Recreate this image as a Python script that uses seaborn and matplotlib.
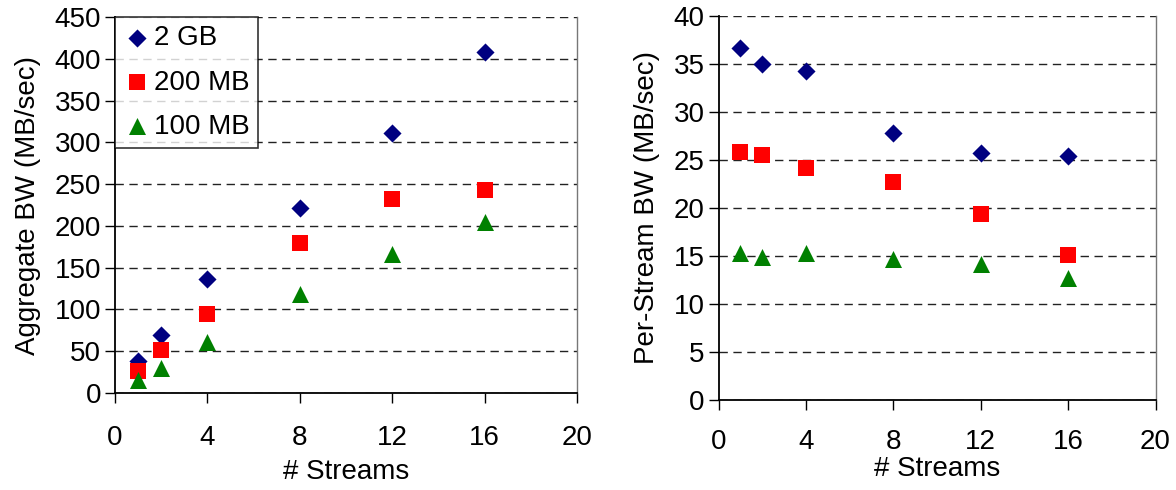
import matplotlib
matplotlib.use("Agg")
import matplotlib.pyplot as plt
import seaborn as sns
import pandas as pd

streams = [1, 2, 4, 8, 12, 16]
series = ["2 GB", "200 MB", "100 MB"]
agg_2gb = [38, 70, 136, 221, 311, 408]
agg_200mb = [26, 52, 95, 180, 232, 243]
agg_100mb = [16, 30, 61, 119, 167, 205]
per_2gb = [36.6, 35.0, 34.2, 27.8, 25.7, 25.4]
per_200mb = [25.8, 25.5, 24.1, 22.7, 19.3, 15.1]
per_100mb = [15.3, 14.9, 15.3, 14.7, 14.1, 12.7]
x_ticks = [0, 4, 8, 12, 16, 20]

colors = {"2 GB": "#000080", "200 MB": "#ff0000", "100 MB": "#008000"}
markers = {"2 GB": "D", "200 MB": "s", "100 MB": "^"}
sizes = {"2 GB": 85, "200 MB": 120, "100 MB": 150}

rows = []
for name, a, p in zip(series, [agg_2gb, agg_200mb, agg_100mb], [per_2gb, per_200mb, per_100mb]):
    for s, av, pv in zip(streams, a, p):
        rows.append({"series": name, "streams": s, "agg": av, "per": pv})
df = pd.DataFrame(rows)

sns.set_theme(style="white")
plt.rcParams["font.family"] = ["Liberation Sans", "DejaVu Sans"]
plt.rcParams["text.color"] = "black"
plt.rcParams["axes.labelcolor"] = "black"
plt.rcParams["xtick.color"] = "black"
plt.rcParams["ytick.color"] = "black"

FS = 20

fig = plt.figure(figsize=(11.76, 4.9), dpi=100)
ax1 = fig.add_axes([0.0978, 0.198, 0.393, 0.767])
ax2 = fig.add_axes([0.611, 0.184, 0.3716, 0.784])

for ax, col, ymax, ystep, ylabel, xpad, xlpad in [
    (ax1, "agg", 450, 50, "Aggregate BW (MB/sec)", 16, 6),
    (ax2, "per", 40, 5, "Per-Stream BW (MB/sec)", 14, 1),
]:
    for name in series:
        sub = df[df["series"] == name]
        sns.scatterplot(data=sub, x="streams", y=col, ax=ax, color=colors[name],
                        marker=markers[name], s=sizes[name], linewidth=0,
                        label=name, zorder=3)
    ax.set_xlim(0, 20)
    ax.set_ylim(0, ymax)
    ax.set_xticks(x_ticks)
    ax.set_yticks(list(range(0, ymax + 1, ystep)))
    ax.yaxis.grid(True, linestyle=(0, (6, 4)), color="#222222", linewidth=1)
    ax.xaxis.grid(False)
    ax.set_axisbelow(True)
    ax.tick_params(axis="both", which="both", direction="out", length=7, width=1,
                   color="black", labelsize=FS, left=True, bottom=True)
    ax.tick_params(axis="x", pad=xpad)
    ax.tick_params(axis="y", pad=3)
    ax.set_xlabel("# Streams", fontsize=FS, labelpad=xlpad)
    ax.set_ylabel(ylabel, fontsize=FS, labelpad=10)
    for side in ["left", "bottom"]:
        ax.spines[side].set_color("black")
        ax.spines[side].set_linewidth(1.3)
    ax.spines["right"].set_color("#777777")
    ax.spines["right"].set_linewidth(1)
    ax.spines["top"].set_visible(False)

leg = ax1.legend(loc="upper left", borderaxespad=0, fontsize=FS, frameon=True,
                 fancybox=False, edgecolor="black", handletextpad=0.1,
                 labelspacing=0.65, borderpad=0.3, handlelength=1.0)
leg.get_frame().set_linewidth(1.2)
if ax2.get_legend():
    ax2.get_legend().remove()

fig.savefig("out.png", dpi=100)
